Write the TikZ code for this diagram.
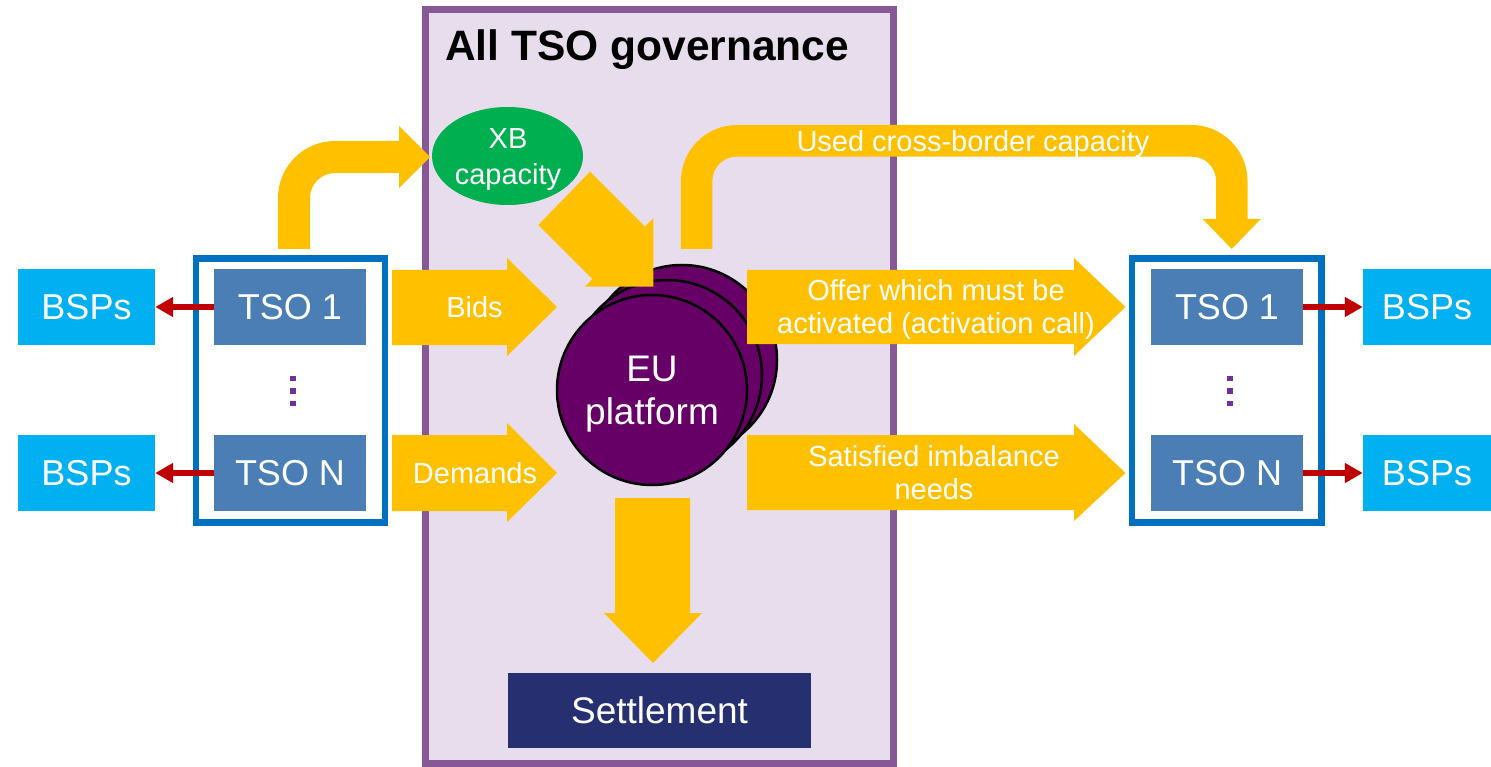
\documentclass[tikz,border=0pt]{standalone}
\usepackage{fontspec}
\setmainfont{Liberation Sans}
\usetikzlibrary{arrows.meta,shapes.geometric}
\definecolor{yel}{HTML}{FFC000}
\definecolor{tsoblue}{HTML}{4C7EB6}
\definecolor{bspblue}{HTML}{00B0F0}
\definecolor{grpblue}{HTML}{0070C0}
\definecolor{govline}{HTML}{875896}
\definecolor{govfill}{HTML}{E8DDEC}
\definecolor{xbgreen}{HTML}{00B050}
\definecolor{eupurple}{HTML}{660066}
\definecolor{settlec}{HTML}{263070}
\definecolor{redc}{HTML}{C00000}
\definecolor{dotc}{HTML}{7030A0}
\begin{document}
\begin{tikzpicture}[x=1pt,y=-1pt,
  groupbox/.style={rectangle, draw=grpblue, line width=6.5pt, fill=white, inner sep=0pt, minimum width=189pt, minimum height=264pt},
  tsobox/.style={rectangle, fill=tsoblue, text=white, inner sep=0pt, minimum width=152pt, minimum height=76pt,
     font=\fontsize{36}{43}\selectfont, text height=25.8pt, text depth=0pt},
  bspbox/.style={rectangle, fill=bspblue, text=white, inner sep=0pt, minimum height=76pt,
     font=\fontsize{36}{43}\selectfont, text height=25.8pt, text depth=0pt},
  redarr/.style={draw=redc, line width=6.5pt, -{Triangle[length=18pt,width=19pt]}},
  dotsq/.style={rectangle, fill=dotc, inner sep=0pt, minimum size=5.4pt},
  eucirc/.style={circle, fill=eupurple, draw=black, line width=2.5pt, inner sep=0pt, minimum size=190pt},
  ylabel/.style={text=white, inner sep=0pt, align=center, font=\fontsize{29}{33}\selectfont},
  yarrow/.style={fill=yel},
]
\useasboundingbox (0,0) rectangle (1491,767);

% governance box
\draw[line width=7pt, draw=govline, fill=govfill] (425.5,10) rectangle (893.5,763.5);
\node[anchor=base west, inner sep=0pt, font=\bfseries\fontsize{42.5}{50}\selectfont] (title) at (445,61) {All TSO governance};

% TSO groups
\node[groupbox] (grpL) at (290.5,390.5) {};
\node[groupbox, minimum width=189.5pt] (grpR) at (1226.75,390.5) {};
\node[tsobox] (tso1L) at (290,307) {TSO 1};
\node[tsobox] (tsoNL) at (290,473) {TSO N};
\node[tsobox] (tso1R) at (1227,307) {TSO 1};
\node[tsobox] (tsoNR) at (1227,473) {TSO N};
\node[dotsq] (dl1) at (293,378.3) {};
\node[dotsq] (dl2) at (293,391) {};
\node[dotsq] (dl3) at (293,403.3) {};
\node[dotsq] (dr1) at (1230,378.3) {};
\node[dotsq] (dr2) at (1230,391) {};
\node[dotsq] (dr3) at (1230,403.3) {};

% BSPs
\node[bspbox, minimum width=137pt] (bspL1) at (86.5,307) {BSPs};
\node[bspbox, minimum width=137pt] (bspL2) at (86.5,473) {BSPs};
\node[bspbox, minimum width=128pt] (bspR1) at (1427,307) {BSPs};
\node[bspbox, minimum width=128pt] (bspR2) at (1427,473) {BSPs};
\draw[redarr] (tso1L.west) -- (bspL1.east);
\draw[redarr] (tsoNL.west) -- (bspL2.east);
\draw[redarr] (tso1R.east) -- (bspR1.west);
\draw[redarr] (tsoNR.east) -- (bspR2.west);

% XB capacity
\node[ellipse, fill=xbgreen, inner sep=0pt, minimum width=151pt, minimum height=98pt] (xb) at (507.5,156) {};
\node[ylabel, font=\fontsize{29}{36}\selectfont] (xbtxt) at (508,159.3) {XB\\capacity};

% EU platform
\node[eucirc] (eu3) at (682,360) {};
\node[eucirc] (eu2) at (667,375) {};
\node[eucirc] (eu1) at (652,390) {};
\node[text=white, inner sep=0pt, align=center, font=\fontsize{37}{43}\selectfont] (eutxt) at (652,394) {EU\\platform};

% Settlement
\node[rectangle, fill=settlec, text=white, inner sep=0pt, minimum width=303pt, minimum height=75pt,
      font=\fontsize{37}{44}\selectfont, text height=26.5pt, text depth=0pt] (settle) at (659.5,710.5) {Settlement};

% yellow block arrows
% TSO group -> XB capacity
\fill[yarrow] (278,249) -- (278,198) .. controls (278,166.5) and (303.5,141) .. (335,141) -- (399,141) -- (399,126)
  -- (430,157) -- (399,188) -- (399,173) -- (335,173) .. controls (321.2,173) and (310,184.2) .. (310,198)
  -- (310,249) -- cycle;
% XB capacity -> EU platform
\fill[yarrow] (590,171.7) -- (645,226.7) -- (653.3,218.3) -- (653.3,286.7) -- (585,286.7) -- (592.3,279) -- (538.3,225) -- cycle;
% Bids
\fill[yarrow] (392,270) -- (507,270) -- (507,258) -- (557,307) -- (507,356) -- (507,345) -- (392,345) -- cycle;
\node[ylabel] (bidstxt) at (474.5,307.5) {Bids};
% Demands
\fill[yarrow] (392,435) -- (507,435) -- (507,423) -- (557,473) -- (507,522) -- (507,511) -- (392,511) -- cycle;
\node[ylabel] (demtxt) at (475,473) {Demands};
% Offer
\fill[yarrow] (747,270) -- (1074,270) -- (1074,258) -- (1125.5,307) -- (1074,356) -- (1074,344) -- (747,344) -- cycle;
\node[ylabel] (offertxt) at (936,309) {Offer which must be\\activated (activation call)};
% Satisfied
\fill[yarrow] (747,435) -- (1074,435) -- (1074,424) -- (1125.5,473) -- (1074,521) -- (1074,510) -- (747,510) -- cycle;
\node[ylabel] (sattxt) at (934,473) {Satisfied imbalance\\needs};
% Used cross-border capacity
\fill[yarrow] (681,249) -- (681,181) .. controls (681,150.1) and (706.1,125) .. (737,125) -- (1191.5,125)
  .. controls (1222.4,125) and (1247.5,150.1) .. (1247.5,181) -- (1247.5,219) -- (1260.75,219) -- (1231.75,249)
  -- (1202.75,219) -- (1216,219) -- (1216,180.7) .. controls (1216,167.4) and (1205.25,156.7) .. (1192,156.7)
  -- (736.4,156.7) .. controls (723.15,156.7) and (712.4,167.45) .. (712.4,180.7) -- (712.4,249) -- cycle;
\node[ylabel, anchor=base] (usedtxt) at (973,151.5) {Used cross-border capacity};
% EU platform -> Settlement
\fill[yarrow] (615,498) -- (690,498) -- (690,613) -- (702,613) -- (653,663) -- (604,613) -- (615,613) -- cycle;

\end{tikzpicture}
\end{document}
